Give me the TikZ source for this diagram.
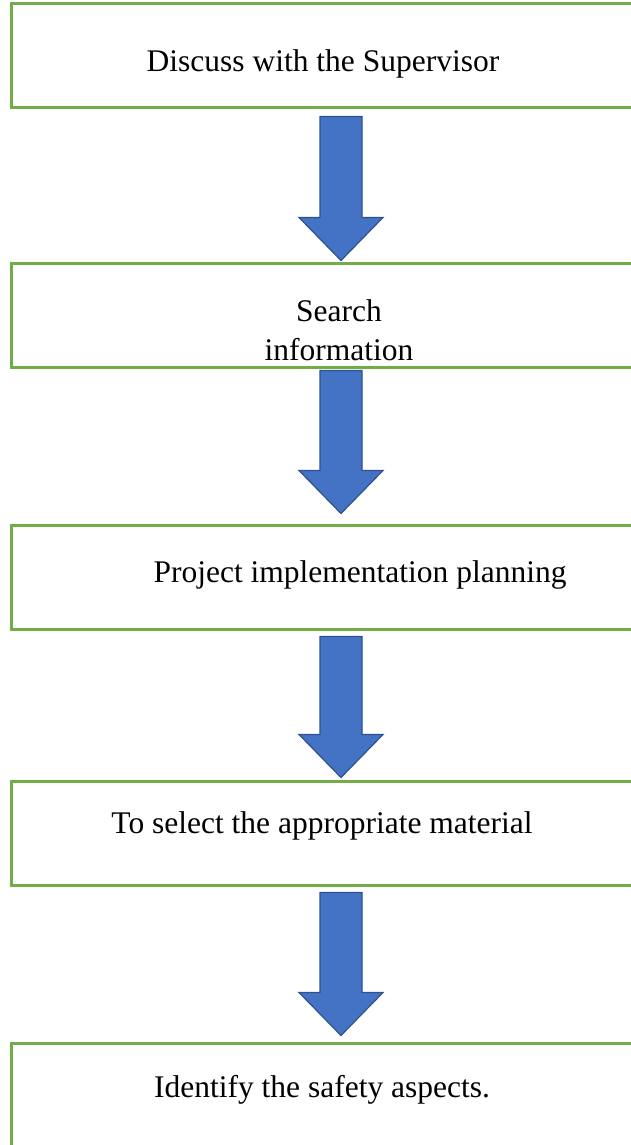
\documentclass[tikz,border=0pt]{standalone}
\usepackage{fontspec}
\setmainfont{Liberation Serif}
\usetikzlibrary{calc}
\definecolor{boxgreen}{HTML}{70AD47}
\definecolor{arrowblue}{HTML}{4472C4}
\definecolor{arrowedge}{HTML}{2F528F}
\def\blockarrow#1#2#3#4{%
    \path[arrowshape] let \p1=($(#1.south)+(0,-#3)$), \p2=($(#2.north)+(0,#4)$) in
        (\x1-21pt,\y1) -- (\x1+21pt,\y1) -- (\x1+21pt,\y2+43pt) -- (\x1+42pt,\y2+43pt)
        -- (\x1,\y2) -- (\x1-42pt,\y2+43pt) -- (\x1-21pt,\y2+43pt) -- cycle;}
\tikzset{
    stepbox/.style={draw=boxgreen, line width=3pt, minimum width=660pt, minimum height=104pt, inner sep=0pt},
    steptext/.style={inner sep=0pt, font=\fontsize{31.5}{39}\selectfont},
    arrowshape/.style={fill=arrowblue, draw=arrowedge, line width=1.2pt, line join=miter}
}

\begin{document}
\begin{tikzpicture}[x=1pt, y=1pt]
                \useasboundingbox (0,0) rectangle (631,-1145);
                \fill[white] (0,0) rectangle (631,-1145);
                \clip (0,0) rectangle (631,-1145);
                % boxes
                \node[stepbox] (b1) at (341,-56) {};
                \node[stepbox] (b2) at (341,-315) {};
                \node[stepbox] (b3) at (341,-577) {};
                \node[stepbox] (b4) at (341,-833) {};
                \node[stepbox] (b5) at (341,-1095) {};
                % texts
                \node[steptext, anchor=base] (t1) at (323,-72) {Discuss with the Supervisor};
                \node[steptext, align=center] (t2) at (339,-330) {Search\\information};
                \node[steptext, anchor=base] (t3) at (360,-582) {Project implementation planning};
                \node[steptext, anchor=base] (t4) at (322,-833) {To select the appropriate material};
                \node[steptext, anchor=base] (t5) at (322,-1097) {Identify the safety aspects.};
                % arrows
                \blockarrow{b1}{b2}{7}{1}
                \blockarrow{b2}{b3}{2}{10}
                \blockarrow{b3}{b4}{6}{2}
                \blockarrow{b4}{b5}{6}{6}
            \end{tikzpicture}
\end{document}
